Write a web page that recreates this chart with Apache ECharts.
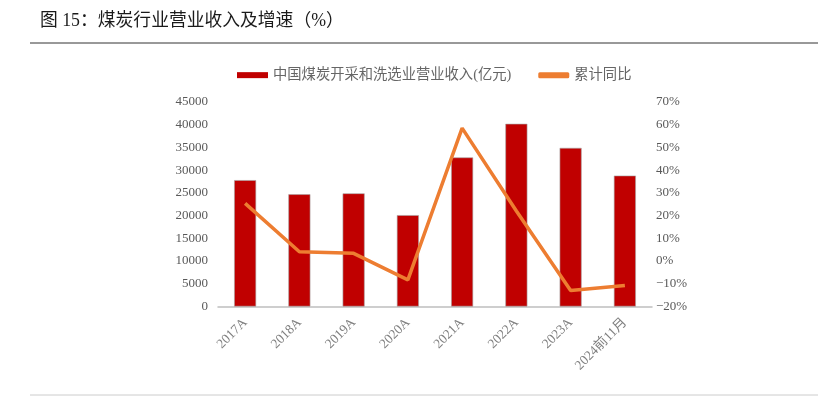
<!DOCTYPE html>
<html><head><meta charset="utf-8">
<script src="https://cdn.jsdelivr.net/npm/echarts@6/dist/echarts.min.js"></script>
<style>html,body{margin:0;padding:0;background:#fff}#c{width:818px;height:396px}</style>
</head><body><div id="c"></div>
<script>
const categories = ['2017A','2018A','2019A','2020A','2021A','2022A','2023A','2024前11月'];
const revenue = [27800, 24700, 24900, 20100, 32800, 40200, 34900, 28800];
const growth = [25.4, 4.1, 3.4, -8.3, 58.5, 22, -13.0, -10.8];
const leftTicks = [0, 45000, 5000];
const rightTicks = [-20, 70, 10];

const serif = '"Liberation Serif","Noto Sans CJK SC",serif';
const chart = echarts.init(document.getElementById('c'));
chart.setOption({
  animation: false,
  graphic: [
    {type:'text', left: 40, top: 12, style:{text:'图 15：煤炭行业营业收入及增速（%）', fill:'#1a1a1a', font:'17.8px "Liberation Serif","Noto Sans CJK SC",serif'}},
    {type:'line', shape:{x1:30,y1:43,x2:818,y2:43}, style:{stroke:'#333',lineWidth:1}},
    {type:'line', shape:{x1:30,y1:395,x2:818,y2:395}, style:{stroke:'#ccc',lineWidth:1}}
  ],
  legend: {
    left: 232, top: 63, itemGap: 27, itemWidth: 31, itemHeight: 6,
    textStyle: {color:'#666', fontSize: 14.3, fontFamily: serif},
    data: [
      {name:'中国煤炭开采和洗选业营业收入(亿元)', icon:'rect', itemStyle:{borderWidth:0, color:'#C00000'}},
      {name:'累计同比', icon:'roundRect', itemStyle:{color:'#ED7D31'}}
    ]
  },
  grid: {left: 218, right: 166, top: 102, bottom: 89.5},
  xAxis: {
    type:'category', data: categories,
    axisLine:{lineStyle:{color:'#BFBFBF', width:1.5}},
    axisTick:{show:false},
    axisLabel:{rotate:45, color:'#7f7f7f', fontSize:13.5, fontFamily: serif, margin: 14, interval:0}
  },
  yAxis: [
    {type:'value', min:leftTicks[0], max:leftTicks[1], interval:leftTicks[2],
     splitLine:{show:false}, axisLine:{show:false}, axisTick:{show:false},
     axisLabel:{color:'#595959', fontSize:13, fontFamily: serif, margin: 10, formatter: v => String(v)}},
    {type:'value', min:rightTicks[0], max:rightTicks[1], interval:rightTicks[2],
     splitLine:{show:false}, axisLine:{show:false}, axisTick:{show:false},
     axisLabel:{color:'#595959', fontSize:13, fontFamily: serif, margin: 4,
       formatter: v => (v<0 ? '−'+(-v) : v) + '%'}}
  ],
  series: [
    {name:'中国煤炭开采和洗选业营业收入(亿元)', type:'bar', data: revenue, barWidth: 22,
     itemStyle:{color:'#C00000', borderColor:'#A6A6A6', borderWidth:0.6}},
    {name:'累计同比', type:'line', yAxisIndex:1, data: growth, symbol:'none',
     lineStyle:{color:'#ED7D31', width:3.5}, itemStyle:{color:'#ED7D31'}}
  ]
});
</script></body></html>
